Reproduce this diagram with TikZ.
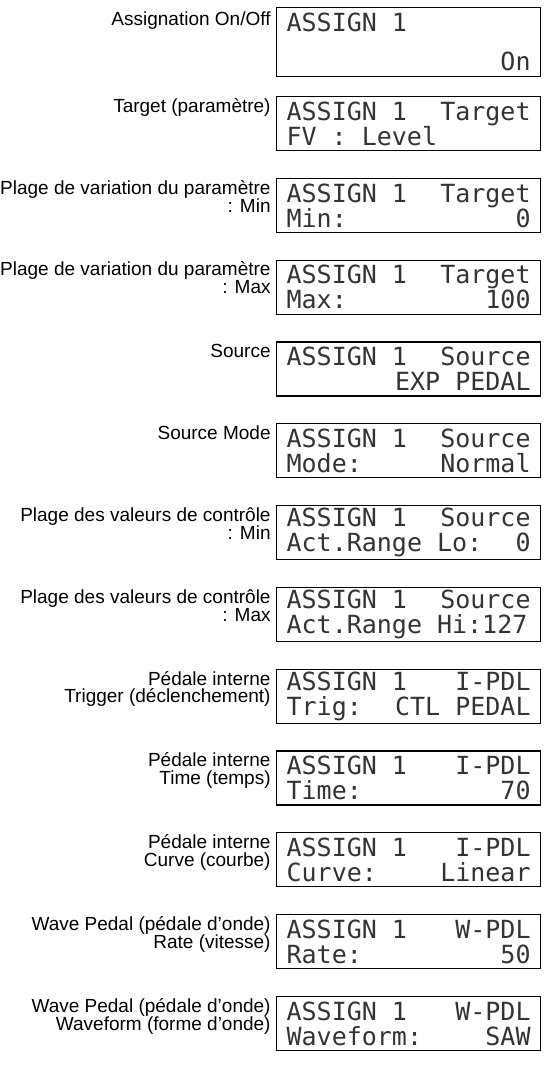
\documentclass[tikz,border=0pt]{standalone}
\usepackage{fontspec}
\setmainfont{Liberation Sans}
\newfontfamily\lcdfont{DejaVu Sans Mono}
\setlength\parindent{0pt}
\usetikzlibrary{positioning}
\tikzset{lcd/.style={draw,line width=0.6pt,anchor=north west,inner xsep=5pt,inner ysep=0pt,
		text width=122pt,minimum height=27pt,text=black!80,
		font=\lcdfont\fontsize{12.5}{12.5}\selectfont,
		execute at begin node={\spaceskip=7.525pt\relax}},
	tag/.style={inner sep=0pt,align=right,anchor=north east,
		font=\fontsize{9.5}{9}\selectfont}}

\begin{document}
\begin{tikzpicture}[x=0.5pt,y=-0.5pt]
		\useasboundingbox (0,0) rectangle (545,1071);
		% displays
		\node[lcd,minimum height=34.5pt] (onoff) at (276,7) {ASSIGN 1\\[7pt]\hspace*{\fill}On};
		\node[lcd] (target) at (276,96) {ASSIGN 1\hfill Target\\FV : Level};
		\node[lcd] (tmin) at (276,177.8) {ASSIGN 1\hfill Target\\Min:\hfill 0};
		\node[lcd] (tmax) at (276,259.6) {ASSIGN 1\hfill Target\\Max:\hfill 100};
		\node[lcd] (source) at (276,341.4) {ASSIGN 1\hfill Source\\\hspace*{\fill}EXP PEDAL};
		\node[lcd] (smode) at (276,423.2) {ASSIGN 1\hfill Source\\Mode:\hfill Normal};
		\node[lcd] (smin) at (276,505) {ASSIGN 1\hfill Source\\Act.Range Lo:\hfill 0};
		\node[lcd] (smax) at (276,586.8) {ASSIGN 1\hfill Source\\Act.Range Hi:127};
		\node[lcd] (itrig) at (276,668.6) {ASSIGN 1\hfill I-PDL\\Trig:\hfill CTL PEDAL};
		\node[lcd] (itime) at (276,750.4) {ASSIGN 1\hfill I-PDL\\Time:\hfill 70};
		\node[lcd] (icurve) at (276,832.2) {ASSIGN 1\hfill I-PDL\\Curve:\hfill Linear};
		\node[lcd] (wrate) at (276,914) {ASSIGN 1\hfill W-PDL\\Rate:\hfill 50};
		\node[lcd] (wform) at (276,995.8) {ASSIGN 1\hfill W-PDL\\Waveform:\hfill SAW};
		% labels
		\node[tag,left=2.5pt of onoff.north west,anchor=north east,yshift=-2pt] (onoffL) {Assignation On/Off};
		\node[tag,left=2.5pt of target.north west,anchor=north east,yshift=-1pt] (targetL) {Target (paramètre)};
		\node[tag,left=2.5pt of tmin.north west,anchor=north east,yshift=-1pt] (tminL) {Plage de variation du paramètre\\: Min};
		\node[tag,left=2.5pt of tmax.north west,anchor=north east,yshift=-1pt] (tmaxL) {Plage de variation du paramètre\\: Max};
		\node[tag,left=2.5pt of source.north west,anchor=north east,yshift=-1pt] (sourceL) {Source};
		\node[tag,left=2.5pt of smode.north west,anchor=north east,yshift=-1pt] (smodeL) {Source Mode};
		\node[tag,left=2.5pt of smin.north west,anchor=north east,yshift=-1pt] (sminL) {Plage des valeurs de contrôle\\: Min};
		\node[tag,left=2.5pt of smax.north west,anchor=north east,yshift=-1pt] (smaxL) {Plage des valeurs de contrôle\\: Max};
		\node[tag,left=2.5pt of itrig.north west,anchor=north east,yshift=-1pt] (itrigL) {Pédale interne\\Trigger (déclenchement)};
		\node[tag,left=2.5pt of itime.north west,anchor=north east,yshift=-1pt] (itimeL) {Pédale interne\\Time (temps)};
		\node[tag,left=2.5pt of icurve.north west,anchor=north east,yshift=-1pt] (icurveL) {Pédale interne\\Curve (courbe)};
		\node[tag,left=2.5pt of wrate.north west,anchor=north east,yshift=-1pt] (wrateL) {Wave Pedal (pédale d’onde)\\Rate (vitesse)};
		\node[tag,left=2.5pt of wform.north west,anchor=north east,yshift=-1pt] (wformL) {Wave Pedal (pédale d’onde)\\Waveform (forme d’onde)};
	\end{tikzpicture}
\end{document}
